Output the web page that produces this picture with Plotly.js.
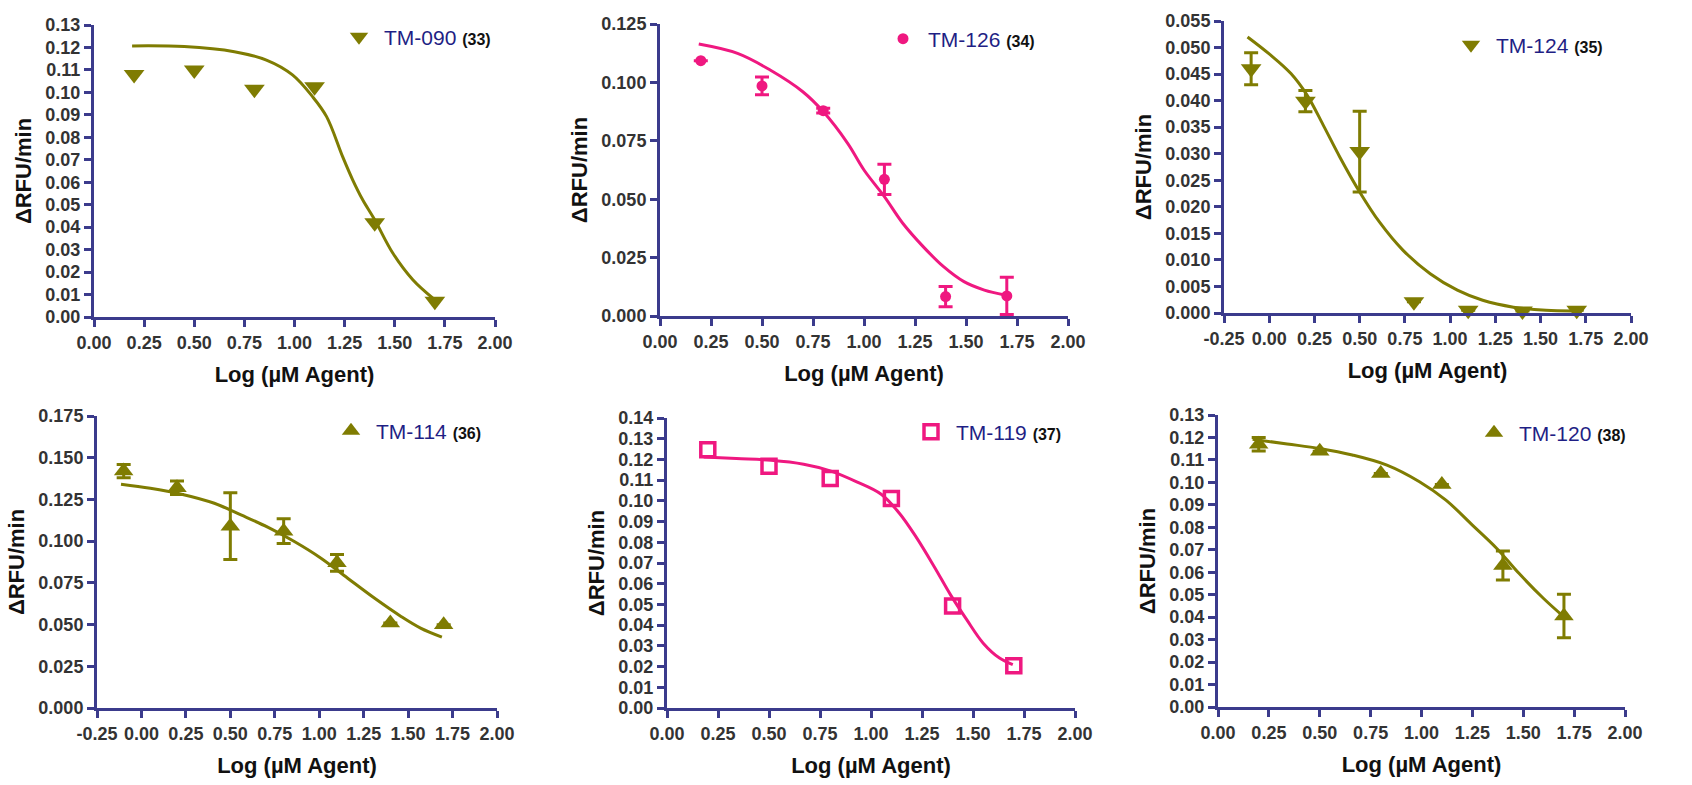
<!DOCTYPE html>
<html>
<head>
<meta charset="utf-8">
<script src="https://cdn.plot.ly/plotly-3.0.1.min.js"></script>
<style>html,body{margin:0;padding:0;background:#fff;}#chart{width:1692px;height:785px;}</style>
</head>
<body>
<div id="chart"></div>
<script>
// ---------- data ----------
const doseX = [0.2, 0.5, 0.8, 1.1, 1.4, 1.7];
const doseX7 = [-0.1, 0.2, 0.5, 0.8, 1.1, 1.4, 1.7];

// Panel 1: TM-090 (33)
const p1Y = [0.108, 0.110, 0.1014, 0.1025, 0.0420, 0.0070];
const p1FitX = [0.19, 0.45, 0.70, 0.86, 0.99, 1.09, 1.16, 1.24, 1.29, 1.34, 1.40, 1.49, 1.59, 1.69];
const p1FitY = [0.1207, 0.1204, 0.1181, 0.1144, 0.1078, 0.0981, 0.0892, 0.0714, 0.0611, 0.0522, 0.0433, 0.0285, 0.0166, 0.0084];

// Panel 2: TM-126 (34)
const p2Y = [0.1093, 0.0985, 0.0879, 0.0585, 0.0083, 0.0086];
const p2Err = [0, 0.0038, 0.001, 0.0065, 0.0043, 0.0080];
const p2FitX = [0.19, 0.38, 0.54, 0.70, 0.80, 0.92, 1.00, 1.10, 1.19, 1.29, 1.39, 1.49, 1.59, 1.69];
const p2FitY = [0.1164, 0.1124, 0.1053, 0.0960, 0.0875, 0.0739, 0.0625, 0.0511, 0.0397, 0.0297, 0.0211, 0.0147, 0.0111, 0.0090];

// Panel 3: TM-124 (35)
const p3Y = [0.0460, 0.0399, 0.0304, 0.0021, 0.0005, 0.0004, 0.0005];
const p3Err = [0.0030, 0.0020, 0.0076, 0, 0, 0, 0];
const p3FitX = [-0.12, 0.00, 0.12, 0.21, 0.30, 0.39, 0.50, 0.61, 0.74, 0.89, 1.04, 1.18, 1.35, 1.53, 1.70];
const p3FitY = [0.0520, 0.0488, 0.0451, 0.0410, 0.0353, 0.0294, 0.0228, 0.0171, 0.0118, 0.0074, 0.0043, 0.0024, 0.0011, 0.0005, 0.0004];

// Panel 4: TM-114 (36)
const p4Y = [0.142, 0.132, 0.109, 0.106, 0.087, 0.0509, 0.0499];
const p4Err = [0.004, 0.004, 0.020, 0.0074, 0.005, 0, 0];
const p4FitX = [-0.115, 0.05, 0.22, 0.41, 0.56, 0.71, 0.86, 1.01, 1.16, 1.31, 1.46, 1.57, 1.69];
const p4FitY = [0.1341, 0.1317, 0.1283, 0.1227, 0.1157, 0.1084, 0.0998, 0.0898, 0.0778, 0.0659, 0.0549, 0.0479, 0.0425];

// Panel 5: TM-119 (37)
const p5Y = [0.1247, 0.1167, 0.1108, 0.1011, 0.0493, 0.0204];
const p5FitX = [0.18, 0.34, 0.51, 0.67, 0.80, 0.93, 1.05, 1.14, 1.22, 1.31, 1.39, 1.47, 1.55, 1.63, 1.695];
const p5FitY = [0.1212, 0.1204, 0.1196, 0.1177, 0.1145, 0.1092, 0.1032, 0.0939, 0.0827, 0.0682, 0.0546, 0.0425, 0.0313, 0.0241, 0.0209];

// Panel 6: TM-120 (38)
const p6Y = [0.117, 0.1139, 0.1040, 0.0991, 0.063, 0.0405];
const p6Err = [0.003, 0, 0, 0, 0.0065, 0.0097];
const p6FitX = [0.17, 0.34, 0.50, 0.66, 0.83, 0.99, 1.12, 1.25, 1.37, 1.48, 1.60, 1.70];
const p6FitY = [0.1192, 0.1171, 0.1151, 0.1122, 0.1077, 0.1003, 0.0921, 0.0810, 0.0706, 0.0594, 0.0483, 0.0401];

const names = ['TM-090', 'TM-126', 'TM-124', 'TM-114', 'TM-119', 'TM-120'];
const compoundNo = ['(33)', '(34)', '(35)', '(36)', '(37)', '(38)'];

const xTicks02 = [0, 0.25, 0.5, 0.75, 1, 1.25, 1.5, 1.75, 2];
const xTickText02 = ['0.00', '0.25', '0.50', '0.75', '1.00', '1.25', '1.50', '1.75', '2.00'];
const xTicksNeg = [-0.25, 0, 0.25, 0.5, 0.75, 1, 1.25, 1.5, 1.75, 2];
const xTickTextNeg = ['-0.25', '0.00', '0.25', '0.50', '0.75', '1.00', '1.25', '1.50', '1.75', '2.00'];

// ---------- styles ----------
const OLIVE = '#7f7c02';
const PINK = '#ef1880';
const AXIS = '#3b3b8c';
const W = 1692, H = 785;

function px2x(p) { return p / W; }
function px2y(p) { return 1 - p / H; }

const panels = [
  {x: doseX,  y: p1Y, err: null,  fx: p1FitX, fy: p1FitY, color: OLIVE, sym: 'triangle-down', size: 18, lw: 0,
   dom: [94, 495, 25, 317], yr: [0, 0.13], dt: 0.01, fmt: '.2f', xt: xTicks02, xtt: xTickText02, xr: [0, 2], leg: [334, 37]},
  {x: doseX,  y: p2Y, err: p2Err, fx: p2FitX, fy: p2FitY, color: PINK, sym: 'circle', size: 11, lw: 0,
   dom: [660, 1068, 24, 316], yr: [0, 0.125], dt: 0.025, fmt: '.3f', xt: xTicks02, xtt: xTickText02, xr: [0, 2], leg: [878, 39]},
  {x: doseX7, y: p3Y, err: p3Err, fx: p3FitX, fy: p3FitY, color: OLIVE, sym: 'triangle-down', size: 18, lw: 0,
   dom: [1224, 1631, 21, 313], yr: [0, 0.055], dt: 0.005, fmt: '.3f', xt: xTicksNeg, xtt: xTickTextNeg, xr: [-0.25, 2], leg: [1446, 45]},
  {x: doseX7, y: p4Y, err: p4Err, fx: p4FitX, fy: p4FitY, color: OLIVE, sym: 'triangle-up', size: 17, lw: 0,
   dom: [97, 497, 416, 708], yr: [0, 0.175], dt: 0.025, fmt: '.3f', xt: xTicksNeg, xtt: xTickTextNeg, xr: [-0.25, 2], leg: [326, 431]},
  {x: doseX,  y: p5Y, err: null,  fx: p5FitX, fy: p5FitY, color: PINK, sym: 'square-open', size: 14, lw: 3.5,
   dom: [667, 1075, 418, 708], yr: [0, 0.14], dt: 0.01, fmt: '.2f', xt: xTicks02, xtt: xTickText02, xr: [0, 2], leg: [906, 432]},
  {x: doseX,  y: p6Y, err: p6Err, fx: p6FitX, fy: p6FitY, color: OLIVE, sym: 'triangle-up', size: 17, lw: 0,
   dom: [1218, 1625, 415, 707], yr: [0, 0.13], dt: 0.01, fmt: '.2f', xt: xTicks02, xtt: xTickText02, xr: [0, 2], leg: [1469, 433]}
];

const tickFont = {family: 'Liberation Sans, Arial, sans-serif', size: 18, color: '#333333', weight: 'bold'};
const titleFont = {family: 'Liberation Sans, Arial, sans-serif', size: 22, color: '#111111', weight: 'bold'};

const traces = [];
const layout = {
  width: W, height: H,
  margin: {l: 0, r: 0, t: 0, b: 0},
  paper_bgcolor: '#ffffff', plot_bgcolor: '#ffffff',
  showlegend: true
};

panels.forEach((p, i) => {
  const n = i + 1;
  const xa = 'x' + (n === 1 ? '' : n), ya = 'y' + (n === 1 ? '' : n);
  const xKey = 'xaxis' + (n === 1 ? '' : n), yKey = 'yaxis' + (n === 1 ? '' : n);
  const legKey = 'legend' + (n === 1 ? '' : n);

  traces.push({
    type: 'scatter', mode: 'lines', x: p.fx, y: p.fy, xaxis: xa, yaxis: ya,
    line: {color: p.color, width: 3, shape: 'spline', smoothing: 1},
    showlegend: false, hoverinfo: 'skip'
  });
  const t = {
    type: 'scatter', mode: 'markers', x: p.x, y: p.y, xaxis: xa, yaxis: ya,
    name: names[i] + ' <b><span style="font-size:16px;color:#111111">' + compoundNo[i] + '</span></b>',
    legend: legKey,
    cliponaxis: false,
    marker: {symbol: p.sym, size: p.size, color: p.color, line: {color: p.color, width: p.lw}}
  };
  if (p.err) {
    t.error_y = {type: 'data', array: p.err, visible: true, color: p.color, thickness: 3, width: 7};
  }
  traces.push(t);

  layout[xKey] = {
    domain: [px2x(p.dom[0]), px2x(p.dom[1])], anchor: ya,
    range: p.xr, tickmode: 'array', tickvals: p.xt, ticktext: p.xtt,
    showline: true, linecolor: AXIS, linewidth: 3, mirror: false,
    ticks: 'outside', ticklen: 7, tickwidth: 3, tickcolor: AXIS,
    showgrid: false, zeroline: false, tickfont: tickFont,
    title: {text: 'Log (\u00b5M Agent)', font: titleFont, standoff: 16}
  };
  layout[yKey] = {
    domain: [px2y(p.dom[3]), px2y(p.dom[2])], anchor: xa,
    range: p.yr, dtick: p.dt, tick0: 0, tickformat: p.fmt,
    showline: true, linecolor: AXIS, linewidth: 3, mirror: false,
    ticks: 'outside', ticklen: 7, tickwidth: 3, tickcolor: AXIS,
    showgrid: false, zeroline: false, tickfont: tickFont,
    title: {text: '\u0394RFU/min', font: titleFont, standoff: 8}
  };
  layout[legKey] = {
    x: px2x(p.leg[0]), y: px2y(p.leg[1]), xanchor: 'left', yanchor: 'middle',
    xref: 'paper', yref: 'paper',
    bgcolor: 'rgba(0,0,0,0)', borderwidth: 0, itemwidth: 40,
    font: {family: 'Liberation Sans, Arial, sans-serif', size: 21, color: '#1f1f85'}
  };
});

Plotly.newPlot('chart', traces, layout, {displayModeBar: false, staticPlot: true});
</script>
</body>
</html>
